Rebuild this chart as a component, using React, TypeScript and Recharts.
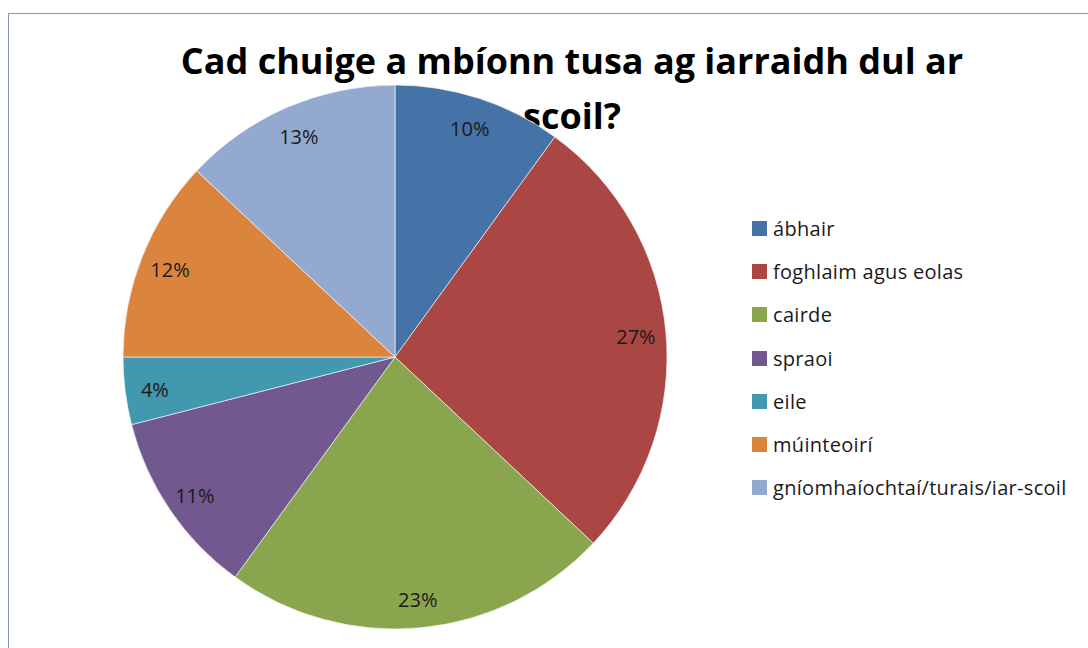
import React from "react";
import { PieChart, Pie, Cell, Legend } from "recharts";

const categories = [
  "ábhair",
  "foghlaim agus eolas",
  "cairde",
  "spraoi",
  "eile",
  "múinteoirí",
  "gníomhaíochtaí/turais/iar-scoil",
];
const shares = [10, 27, 23, 11, 4, 12, 13];
const colors = ["#4572A7", "#AA4643", "#89A54E", "#71588F", "#4198AF", "#DB843D", "#93A9CF"];
const titleLines = ["Cad chuige a mbíonn tusa ag iarraidh dul ar", "scoil?"];

const data = categories.map((name, i) => ({ name, value: shares[i] }));

const RAD = Math.PI / 180;

function PctLabel(props: any) {
  const { cx, cy, midAngle, percent } = props;
  const r = 242;
  const x = cx + r * Math.cos(-midAngle * RAD);
  const y = cy + r * Math.sin(-midAngle * RAD) + 2;
  return (
    <text x={x} y={y} fill="#1a1a1a" fontSize={20} fontFamily="Open Sans" textAnchor="middle" dominantBaseline="central">
      {`${Math.round(percent * 100)}%`}
    </text>
  );
}

function LegendBox() {
  return (
    <div style={{ fontFamily: "Open Sans", fontSize: 20, letterSpacing: 0.3, color: "#1a1a1a" }}>
      {data.map((d, i) => (
        <div key={d.name} style={{ display: "flex", alignItems: "center", height: 43.2 }}>
          <span style={{ width: 15, height: 15, background: colors[i], marginRight: 6, display: "inline-block" }} />
          <span>{d.name}</span>
        </div>
      ))}
    </div>
  );
}

export default function App() {
  return (
    <div style={{ position: "fixed", left: 0, top: 0, width: 1088, height: 648, overflow: "hidden", background: "#fff" }}>
      <div
        style={{
          position: "absolute",
          left: 8,
          top: 13,
          width: 1090,
          height: 650,
          borderTop: "1px solid #8796b4",
          borderLeft: "1px solid #8796b4",
        }}
      />
      <PieChart width={1088} height={648} style={{ position: "absolute", left: 0, top: 0 }}>
        <Pie
          data={data}
          dataKey="value"
          nameKey="name"
          cx={390}
          cy={352}
          outerRadius={272}
          startAngle={90}
          endAngle={-270}
          stroke="#ffffff"
          strokeWidth={0.6}
          label={PctLabel}
          labelLine={false}
          isAnimationActive={false}
        >
          {data.map((d, i) => (
            <Cell key={d.name} fill={colors[i]} />
          ))}
        </Pie>
        <Legend
          content={() => <LegendBox />}
          wrapperStyle={{ position: "absolute", left: 752, top: 207, width: 336 }}
        />
        <text x={572} y={74} textAnchor="middle" fontFamily="Open Sans" fontWeight={700} fontSize={36} fill="#000">
          {titleLines[0]}
        </text>
        <text x={572} y={129} textAnchor="middle" fontFamily="Open Sans" fontWeight={700} fontSize={36} fill="#000">
          {titleLines[1]}
        </text>
      </PieChart>
    </div>
  );
}
